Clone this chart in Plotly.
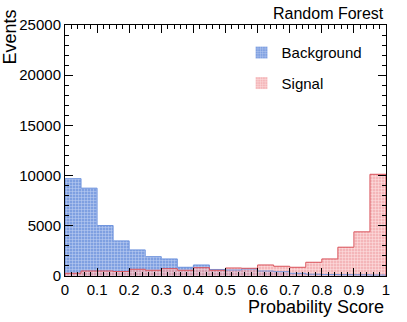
import plotly.graph_objects as go

bin_edges = [round(i * 0.05, 2) for i in range(21)]
background = [9700, 8750, 5030, 3500, 2600, 1930, 1700, 870, 1100, 650,
              600, 700, 500, 430, 270, 180, 150, 130, 120, 100]
signal = [270, 500, 500, 450, 670, 570, 730, 570, 830, 570,
          800, 770, 1100, 970, 870, 1370, 1700, 2870, 4400, 10130]
x_ticks = [0, 0.1, 0.2, 0.3, 0.4, 0.5, 0.6, 0.7, 0.8, 0.9, 1]
x_tick_labels = ["0", "0.1", "0.2", "0.3", "0.4", "0.5", "0.6", "0.7", "0.8", "0.9", "1"]
y_ticks = [0, 5000, 10000, 15000, 20000, 25000]
y_tick_labels = ["0", "5000", "10000", "15000", "20000", "25000"]

centers = [(bin_edges[i] + bin_edges[i + 1]) / 2 for i in range(20)]
FONT = "Liberation Sans, Arial, sans-serif"

def step(vals):
    xs = [bin_edges[0]] + bin_edges + [bin_edges[-1]]
    ys = [0] + vals + [vals[-1], 0]
    return xs, ys

fig = go.Figure()
fig.add_trace(go.Bar(
    x=centers, y=background, width=0.05, name="Background", legendgroup="bkg",
    marker=dict(color="#7398de", line=dict(width=0),
                pattern=dict(shape="+", fgcolor="#bccdf2", bgcolor="#7296de",
                             size=3, solidity=0.3, fillmode="replace")),
    opacity=0.9,
))
fig.add_trace(go.Bar(
    x=centers, y=signal, width=0.05, name="Signal", legendgroup="sig",
    marker=dict(color="#f0a0a4", line=dict(width=0),
                pattern=dict(shape="+", fgcolor="#fcdcdc", bgcolor="#f19ea2",
                             size=3, solidity=0.3, fillmode="replace")),
    opacity=0.75,
))
bx, by = step(background)
fig.add_trace(go.Scatter(x=bx, y=by, mode="lines", line=dict(color="#7296de", width=1, shape="hv"),
                         showlegend=False, hoverinfo="skip"))
sx, sy = step(signal)
fig.add_trace(go.Scatter(x=sx, y=sy, mode="lines", line=dict(color="#d9545c", width=1, shape="hv"),
                         showlegend=False, hoverinfo="skip"))

fig.update_layout(
    width=407, height=322,
    margin=dict(l=65, r=21, t=25, b=46, autoexpand=False),
    paper_bgcolor="white", plot_bgcolor="white",
    barmode="overlay", bargap=0,
    font=dict(family=FONT, size=15, color="black"),
    showlegend=True,
    legend=dict(x=0.55, y=0.955, xanchor="left", yanchor="top",
                bgcolor="rgba(0,0,0,0)", font=dict(size=15), tracegroupgap=8,
                itemwidth=30),
    xaxis=dict(range=[0, 1], tickvals=x_ticks, ticktext=x_tick_labels, automargin=False,
               ticks="inside", ticklen=8, tickcolor="black", showline=True,
               linecolor="black", linewidth=1, mirror="allticks", showgrid=False,
               zeroline=False, tickfont=dict(size=15),
               minor=dict(dtick=0.02, ticks="inside", ticklen=4, tickcolor="black")),
    yaxis=dict(range=[0, 25000], tickvals=y_ticks, ticktext=y_tick_labels, automargin=False,
               ticks="inside", ticklen=8,
               tickcolor="black", showline=True, linecolor="black", linewidth=1,
               mirror="allticks", showgrid=False, zeroline=False, tickfont=dict(size=15),
               minor=dict(dtick=1000, ticks="inside", ticklen=4, tickcolor="black")),
    annotations=[
        dict(text="Random Forest", xref="paper", yref="paper", x=1.0, y=1.0,
             xanchor="right", yanchor="bottom", yshift=1, showarrow=False,
             font=dict(size=16)),
        dict(text="Events", xref="paper", yref="paper", x=0, y=1.0,
             xanchor="right", yanchor="top", xshift=-44, yshift=17, textangle=-90,
             showarrow=False, font=dict(size=18)),
        dict(text="Probability Score", xref="paper", yref="paper", x=1.0, y=0,
             xanchor="right", yanchor="top", yshift=-19, showarrow=False,
             font=dict(size=18)),
    ],
)
fig.write_html("out.html", config={"displayModeBar": False},
               post_script="document.body.style.margin='0';document.body.style.padding='0';")
